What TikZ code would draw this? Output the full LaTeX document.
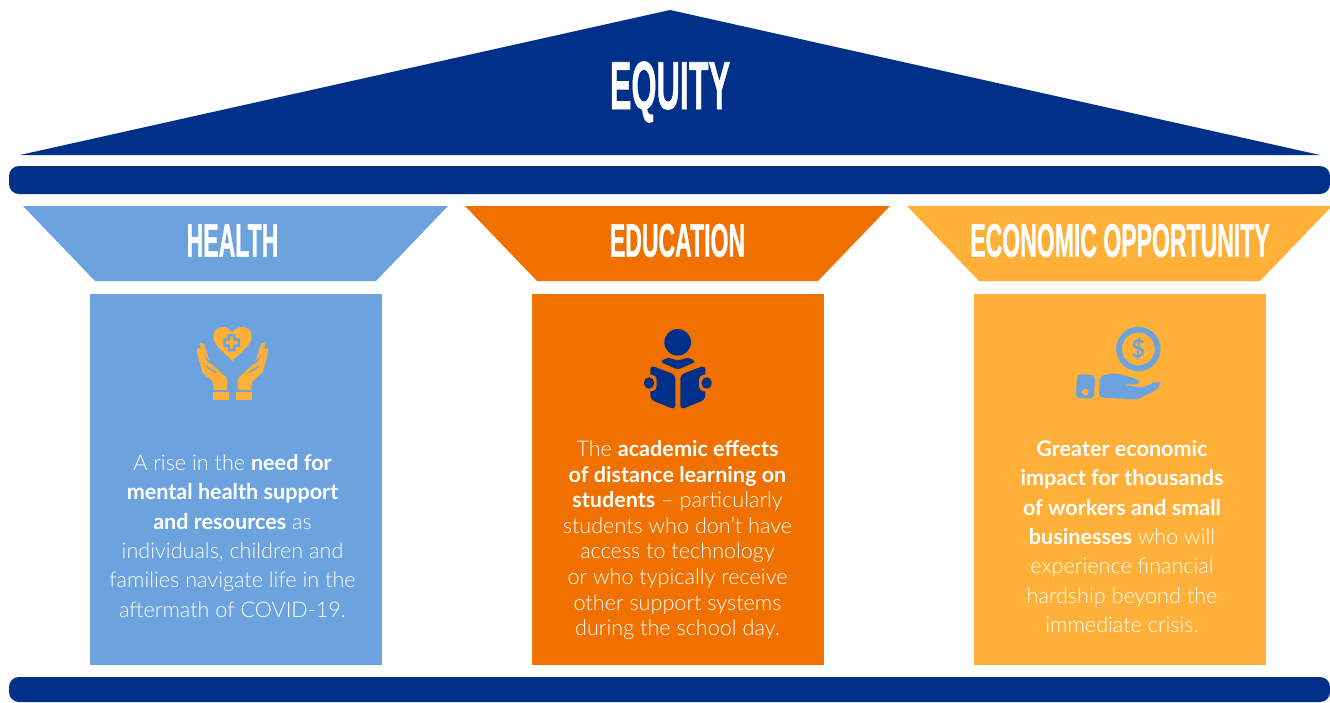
\documentclass[tikz,border=0pt]{standalone}
\usepackage{fontspec}
\usepackage{graphicx}
\setmainfont{Lato}[UprightFont=* Light,BoldFont=* Bold]
\newfontfamily\titlefont{Liberation Sans Bold}[FakeBold=1.2]
\definecolor{navy}{HTML}{003087}
\definecolor{sky}{HTML}{6CA3DF}
\definecolor{burnt}{HTML}{F07000}
\definecolor{amber}{HTML}{FFB038}
\newcommand{\ttl}[2]{\scalebox{#1}[1]{\titlefont #2}}
\tikzset{
  barshape/.style={fill=navy,draw=none,rounded corners=10pt},
  titletext/.style={text=white,inner sep=0pt,anchor=center},
  bodytext/.style={text=white,inner sep=0pt,align=center,anchor=center,font=\fontsize{21.6}{#1}\selectfont},
}
\begin{document}
\begin{tikzpicture}[x=1pt,y=-1pt]
\useasboundingbox (0,0) rectangle (1330,702);
% roof and bars
\fill[navy] (670,10) -- (1320,155) -- (20,155) -- cycle;
\path[barshape] (9,166) rectangle (1330,194);
\path[barshape] (9,677) rectangle (1330,702);
% capitals
\fill[sky] (23,206) -- (448,206) -- (376,281) -- (95,281) -- cycle;
\fill[burnt] (465,206) -- (890,206) -- (818,281) -- (537,281) -- cycle;
\fill[amber] (907,206) -- (1332,206) -- (1260,281) -- (979,281) -- cycle;
% columns
\fill[sky] (90,294) rectangle (382,665);
\fill[burnt] (532,294) rectangle (824,665);
\fill[amber] (974,294) rectangle (1266,665);
% titles
\node[titletext,font=\fontsize{68}{68}\selectfont] (equity) at (670,92) {\ttl{0.475}{EQUITY}};
\node[titletext,font=\fontsize{47}{47}\selectfont] (health) at (232.5,240.5) {\ttl{0.49}{HEALTH}};
\node[titletext,font=\fontsize{47}{47}\selectfont] (education) at (677.5,240.5) {\ttl{0.49}{EDUCATION}};
\node[titletext,font=\fontsize{47}{47}\selectfont] (economic) at (1120,240.5) {\ttl{0.49}{ECONOMIC OPPORTUNITY}};
% body text
\node[bodytext=29.3] (healthtext) at (232.5,536) {A rise in the \textbf{need for}\\\textbf{mental health support}\\\textbf{and resources} as\\individuals, children and\\families navigate life in the\\aftermath of COVID-19.};
\node[bodytext=25.6] (edutext) at (677.5,540) {The \textbf{academic effects}\\\textbf{of distance learning on}\\\textbf{students} -- particularly\\students who don’t have\\access to technology\\or who typically receive\\other support systems\\during the school day.};
\node[bodytext=29.3] (econtext) at (1122,536.5) {\textbf{Greater economic}\\\textbf{impact for thousands}\\\textbf{of workers and small}\\\textbf{businesses} who will\\experience financial\\hardship beyond the\\immediate crisis.};
% health icon
\begin{scope}[shift={(170,310)},scale=1/3]
  \fill[amber] (187,153) .. controls (160,125) and (130,105) .. (130,80) .. controls (130,60) and (145,51) .. (158,51) .. controls (170,51) and (182,58) .. (187,68) .. controls (192,58) and (204,51) .. (216,51) .. controls (232,51) and (245,62) .. (245,80) .. controls (245,105) and (214,125) .. (187,153) -- cycle;
  \fill[sky] (173,72) -- (197,72) -- (197,85) -- (210,85) -- (210,111) -- (197,111) -- (197,124) -- (173,124) -- (173,111) -- (160,111) -- (160,85) -- (173,85) -- cycle;
  \fill[amber] (180,80) -- (190,80) -- (190,93) -- (203,93) -- (203,103) -- (190,103) -- (190,116) -- (180,116) -- (180,103) -- (167,103) -- (167,93) -- (180,93) -- cycle;
\end{scope}
\foreach \mx/\sx in {170/1,295/-1}{
\begin{scope}[shift={(\mx,310)},xscale=\sx/3,yscale=1/3]
  \fill[amber,rounded corners=2pt] (78,118) -- (87,112) -- (97,118) -- (110,155) -- (122,160) -- (172,205) -- (172,240) -- (130,240) -- (130,215) -- (97,188) -- cycle;
  \draw[sky,line width=1.3pt,line cap=round] (108,168) .. controls (118,176) and (128,182) .. (138,187);
  \fill[amber,rounded corners=2pt] (87,101) -- (96,96) -- (103,103) -- (117,150) -- (113,150) -- cycle;
  \fill[amber] (130,246) rectangle (177,270);
\end{scope}}
% reader icon
\begin{scope}[shift={(620,310)},scale=1/3]
  \fill[navy] (173,97) circle[radius=40];
  \fill[navy,rounded corners=3pt] (120,155) -- (145,142) -- (165,150) -- (183,150) -- (205,142) -- (228,155) -- (173,179) -- cycle;
  \fill[navy,rounded corners=4pt] (91,166) -- (166,194) -- (166,299) -- (91,269) -- cycle;
  \fill[navy,rounded corners=4pt] (181,194) -- (256,166) -- (256,269) -- (181,299) -- cycle;
  \fill[burnt,rounded corners=5pt] (66,194) rectangle (110,244);
  \fill[burnt,rounded corners=5pt] (237,194) rectangle (281,244);
  \fill[navy,rounded corners=5pt] (72,202) rectangle (102,236);
  \fill[navy,rounded corners=5pt] (245,202) rectangle (275,236);
\end{scope}
% money icon
\begin{scope}[shift={(1060,310)},scale=1/3]
  \draw[sky,line width=17/3*1pt] (235,117) circle[radius=58];
  \fill[sky,rounded corners=4pt] (52,192) -- (105,195) -- (102,266) -- (47,264) -- cycle;
  \fill[amber] (76,246) circle[radius=10];
  \fill[sky,rounded corners=4pt] (120,197) -- (165,189) -- (235,208) -- (241,222) -- (188,224) -- (245,233) -- (295,213) -- (304,222) -- (290,240) -- (230,269) -- (117,262) -- cycle;
\end{scope}
\node[text=sky,inner sep=0pt,font=\fontsize{24}{24}\selectfont\bfseries] (dollar) at (1138.3,349) {\$};
\end{tikzpicture}
\end{document}
